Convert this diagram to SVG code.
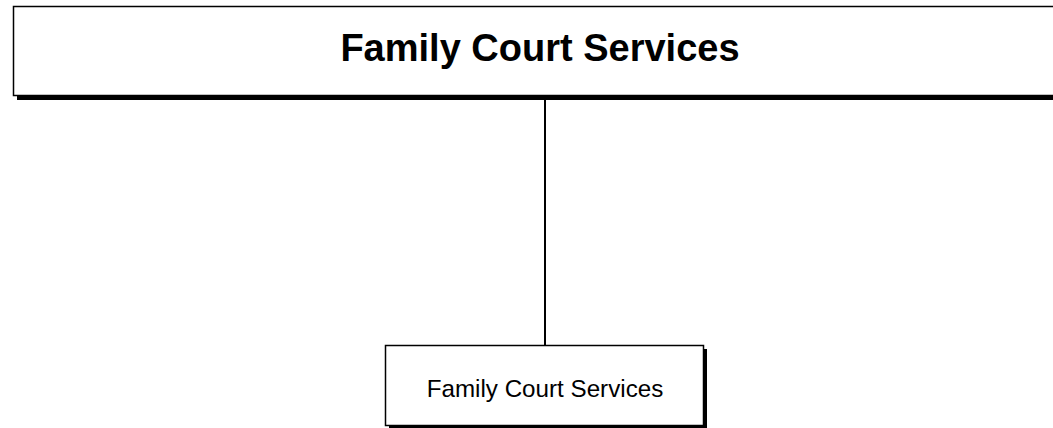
<svg xmlns="http://www.w3.org/2000/svg" width="1053" height="428" viewBox="0 0 1053 428">
<style>
.box{fill:#fff;stroke:#000;stroke-width:1.5}
.shadow{fill:#000}
.t{font-family:"Liberation Sans",Arial,sans-serif;fill:#000;text-anchor:middle}
</style>
<rect width="1053" height="428" fill="#fff"/>
<g id="connectors">
<line x1="545" y1="98" x2="545" y2="345" stroke="#000" stroke-width="2"/>
</g>
<g id="node-top">
<rect class="shadow" x="17" y="10" width="1050" height="90"/>
<rect class="box" x="13.5" y="6.5" width="1050" height="89"/>
<text class="t" x="540" y="61" font-size="38" font-weight="bold">Family Court Services</text>
</g>
<g id="node-bottom">
<rect class="shadow" x="389" y="349" width="318" height="80"/>
<rect class="box" x="385.5" y="345.5" width="318" height="80"/>
<text class="t" x="545" y="397" font-size="24.2">Family Court Services</text>
</g>
</svg>
